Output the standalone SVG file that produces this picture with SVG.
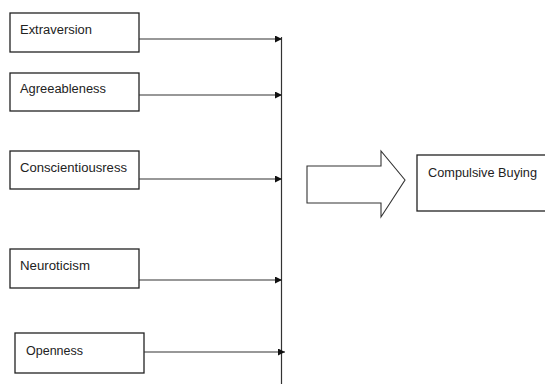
<svg xmlns="http://www.w3.org/2000/svg" width="545" height="384" viewBox="0 0 545 384">
<defs>
<style>
.box{fill:#fff;stroke:#222;stroke-width:1.3}
.lbl{font-family:"Liberation Sans",Arial,sans-serif;font-size:12.5px;fill:#222}
.con{stroke:#333;stroke-width:1.2;fill:none}
</style>
<marker id="ah" viewBox="0 0 10 10" refX="10" refY="5" markerWidth="7" markerHeight="7" markerUnits="userSpaceOnUse" orient="auto">
<path d="M0,0 L10,5 L0,10 z" fill="#111"/>
</marker>
</defs>
<rect width="545" height="384" fill="#fff"/>
<g id="n-extraversion"><rect class="box" x="10" y="13" width="129" height="39"/><text class="lbl" x="20" y="34" textLength="72" lengthAdjust="spacingAndGlyphs">Extraversion</text></g>
<g id="n-agreeableness"><rect class="box" x="10" y="73" width="129" height="38"/><text class="lbl" x="20" y="93" textLength="86" lengthAdjust="spacingAndGlyphs">Agreeableness</text></g>
<g id="n-conscientiousness"><rect class="box" x="10" y="151" width="129" height="38"/><text class="lbl" x="20" y="172" textLength="107" lengthAdjust="spacingAndGlyphs">Conscientiousress</text></g>
<g id="n-neuroticism"><rect class="box" x="10" y="249" width="129" height="39"/><text class="lbl" x="20" y="270" textLength="70" lengthAdjust="spacingAndGlyphs">Neuroticism</text></g>
<g id="n-openness"><rect class="box" x="15" y="333" width="129" height="40"/><text class="lbl" x="26" y="355" textLength="57" lengthAdjust="spacingAndGlyphs">Openness</text></g>
<g id="n-compulsive"><rect class="box" x="417" y="155" width="140" height="56"/><text class="lbl" x="428" y="177" textLength="109" lengthAdjust="spacingAndGlyphs">Compulsive Buying</text></g>
<g id="connectors">
<line class="con" x1="281.5" y1="37" x2="281.5" y2="384"/>
<line class="con" x1="139" y1="39" x2="282" y2="39" marker-end="url(#ah)"/>
<line class="con" x1="139" y1="95" x2="282" y2="95" stroke-width="1.6" marker-end="url(#ah)"/>
<line class="con" x1="139" y1="179" x2="282" y2="179" marker-end="url(#ah)"/>
<line class="con" x1="139" y1="280" x2="282" y2="280" marker-end="url(#ah)"/>
<line class="con" x1="144" y1="352" x2="285" y2="352" stroke-width="1.6" marker-end="url(#ah)"/>
<path d="M307,166 L381,166 L381,151 L405,180 L381,217 L381,203 L307,203 z" fill="#fff" stroke="#333" stroke-width="1.1"/>
</g>
</svg>
